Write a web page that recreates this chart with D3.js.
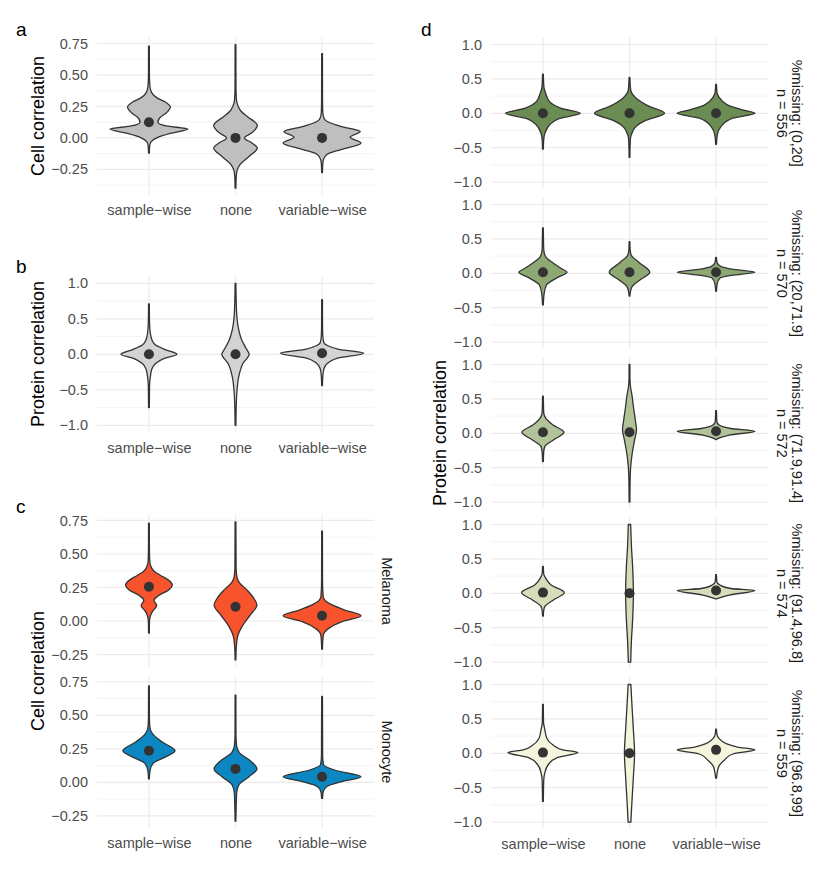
<!DOCTYPE html>
<html>
<head>
<meta charset="utf-8">
<script src="https://cdn.jsdelivr.net/npm/d3@7"></script>
<style>
  body { margin: 0; background: #fff; }
  text { font-family: "Liberation Sans", Arial, sans-serif; }
</style>
</head>
<body>
<svg id="canvas" width="830" height="890"></svg>
<script>
// categories on the x axis
const methods = ["sample-wise", "none", "variable-wise"];

// violin profiles: [value, relative width] per method (bottom -> top)
const aDensity = [
  [[-0.12,0.01],[-0.06,0.02],[-0.03,0.06],[0.0,0.2],[0.035,0.55],[0.07,1.0],[0.095,0.45],[0.125,0.23],[0.16,0.28],[0.2,0.45],[0.245,0.55],[0.285,0.42],[0.32,0.2],[0.36,0.07],[0.41,0.025],[0.5,0.012],[0.73,0.01]],
  [[-0.40,0.01],[-0.3,0.02],[-0.25,0.05],[-0.21,0.12],[-0.15,0.34],[-0.08,0.56],[-0.04,0.42],[0.0,0.23],[0.04,0.42],[0.1,0.56],[0.17,0.3],[0.21,0.15],[0.25,0.07],[0.3,0.025],[0.4,0.012],[0.74,0.01]],
  [[-0.275,0.01],[-0.2,0.02],[-0.15,0.07],[-0.12,0.2],[-0.095,0.47],[-0.04,1.0],[0.005,0.72],[0.05,0.98],[0.09,0.5],[0.12,0.2],[0.15,0.06],[0.2,0.02],[0.3,0.012],[0.67,0.01]]
];
const aMeans = [0.124, 0.0, 0.0];

const bDensity = [
  [[-0.75,0.01],[-0.45,0.015],[-0.3,0.04],[-0.2,0.08],[-0.13,0.17],[-0.06,0.38],[0.0,0.72],[0.07,0.4],[0.13,0.17],[0.2,0.08],[0.3,0.035],[0.45,0.015],[0.71,0.01]],
  [[-1.0,0.01],[-0.7,0.02],[-0.5,0.04],[-0.31,0.085],[-0.13,0.19],[0.0,0.35],[0.085,0.27],[0.2,0.16],[0.35,0.08],[0.5,0.04],[0.7,0.02],[1.0,0.01]],
  [[-0.44,0.01],[-0.3,0.02],[-0.2,0.05],[-0.15,0.1],[-0.056,0.38],[0.015,1.07],[0.07,0.43],[0.12,0.15],[0.16,0.05],[0.25,0.02],[0.4,0.012],[0.77,0.01]]
];
const bMeans = [0.0, 0.0, 0.015];

const cellTypes = ["Melanoma", "Monocyte"];
const cMelanomaDensity = [
  [[-0.09,0.01],[0.0,0.015],[0.04,0.04],[0.075,0.1],[0.115,0.2],[0.155,0.13],[0.19,0.25],[0.23,0.5],[0.27,0.6],[0.305,0.5],[0.34,0.3],[0.37,0.14],[0.4,0.06],[0.45,0.02],[0.55,0.012],[0.73,0.01]],
  [[-0.29,0.01],[-0.2,0.02],[-0.12,0.05],[-0.04,0.17],[0.045,0.38],[0.12,0.55],[0.17,0.47],[0.23,0.3],[0.29,0.09],[0.33,0.035],[0.4,0.015],[0.74,0.01]],
  [[-0.21,0.01],[-0.12,0.025],[-0.09,0.05],[-0.055,0.17],[-0.005,0.51],[0.04,1.0],[0.08,0.6],[0.12,0.26],[0.15,0.09],[0.18,0.03],[0.3,0.012],[0.67,0.01]]
];
const cMelanomaMeans = [0.256, 0.107, 0.04];
const cMonocyteDensity = [
  [[0.025,0.01],[0.09,0.03],[0.14,0.1],[0.19,0.43],[0.236,0.67],[0.3,0.34],[0.365,0.085],[0.42,0.02],[0.5,0.012],[0.72,0.01]],
  [[-0.29,0.01],[-0.15,0.02],[-0.08,0.03],[-0.02,0.085],[0.04,0.34],[0.1,0.55],[0.17,0.34],[0.22,0.1],[0.27,0.03],[0.35,0.012],[0.65,0.01]],
  [[-0.12,0.01],[-0.07,0.03],[-0.03,0.13],[0.005,0.5],[0.042,1.0],[0.09,0.34],[0.13,0.04],[0.2,0.015],[0.64,0.01]]
];
const cMonocyteMeans = [0.236, 0.1, 0.042];

const dBins = ["(0,20]", "(20,71.9]", "(71.9,91.4]", "(91.4,96.8]", "(96.8,99]"];
const dCounts = [556, 570, 572, 574, 559];
const dDensity = [
  [
    [[-0.52,0.01],[-0.38,0.02],[-0.29,0.05],[-0.17,0.17],[-0.073,0.43],[0.0,0.96],[0.073,0.47],[0.17,0.17],[0.29,0.07],[0.38,0.025],[0.57,0.01]],
    [[-0.64,0.01],[-0.4,0.02],[-0.32,0.04],[-0.19,0.17],[-0.1,0.43],[0.0,0.9],[0.1,0.51],[0.22,0.17],[0.34,0.03],[0.52,0.01]],
    [[-0.45,0.01],[-0.32,0.03],[-0.19,0.13],[-0.07,0.43],[0.0,1.0],[0.05,0.68],[0.12,0.3],[0.24,0.07],[0.3,0.025],[0.42,0.01]]
  ],
  [
    [[-0.46,0.01],[-0.3,0.03],[-0.17,0.09],[-0.06,0.38],[0.015,0.62],[0.07,0.47],[0.15,0.26],[0.24,0.07],[0.35,0.02],[0.66,0.01]],
    [[-0.33,0.01],[-0.25,0.03],[-0.19,0.07],[-0.1,0.26],[0.015,0.52],[0.15,0.26],[0.27,0.04],[0.35,0.015],[0.46,0.01]],
    [[-0.26,0.01],[-0.15,0.03],[-0.07,0.1],[-0.03,0.4],[0.015,1.0],[0.06,0.4],[0.1,0.12],[0.15,0.03],[0.23,0.01]]
  ],
  [
    [[-0.41,0.01],[-0.27,0.02],[-0.19,0.05],[-0.1,0.26],[0.015,0.54],[0.12,0.26],[0.22,0.07],[0.3,0.02],[0.54,0.01]],
    [[-1.0,0.01],[-0.7,0.015],[-0.49,0.03],[-0.29,0.07],[-0.1,0.13],[0.05,0.18],[0.19,0.15],[0.39,0.1],[0.53,0.07],[0.68,0.025],[0.8,0.012],[1.0,0.01]],
    [[-0.09,0.01],[-0.07,0.07],[-0.025,0.34],[0.03,1.0],[0.07,0.38],[0.12,0.08],[0.17,0.02],[0.33,0.01]]
  ],
  [
    [[-0.33,0.01],[-0.25,0.02],[-0.19,0.05],[-0.1,0.26],[0.01,0.55],[0.12,0.21],[0.22,0.07],[0.28,0.02],[0.39,0.01]],
    [[-1.0,0.03],[-0.92,0.035],[-0.68,0.05],[-0.39,0.08],[0.0,0.1],[0.39,0.08],[0.68,0.05],[0.92,0.035],[1.0,0.03]],
    [[-0.08,0.01],[-0.07,0.07],[-0.025,0.34],[0.04,1.0],[0.07,0.38],[0.12,0.1],[0.17,0.02],[0.27,0.01]]
  ],
  [
    [[-0.7,0.01],[-0.4,0.02],[-0.29,0.045],[-0.17,0.13],[-0.06,0.38],[0.01,0.9],[0.05,0.51],[0.12,0.26],[0.22,0.1],[0.34,0.05],[0.45,0.015],[0.71,0.01]],
    [[-1.0,0.035],[-0.73,0.06],[-0.34,0.1],[0.0,0.13],[0.34,0.1],[0.73,0.06],[1.0,0.035]],
    [[-0.36,0.01],[-0.28,0.03],[-0.19,0.07],[-0.1,0.21],[-0.01,0.43],[0.05,1.0],[0.09,0.55],[0.14,0.26],[0.22,0.07],[0.28,0.02],[0.35,0.01]]
  ]
];
const dMeans = [
  [0.0, 0.0, 0.0],
  [0.015, 0.015, 0.015],
  [0.015, 0.015, 0.03],
  [0.01, 0.0, 0.04],
  [0.01, 0.0, 0.05]
];

// tick values
const cellTicks = [-0.25, 0, 0.25, 0.5, 0.75];
const cellMinor = [-0.375, -0.125, 0.125, 0.375, 0.625];
const protTicks = [-1, -0.5, 0, 0.5, 1];
const protMinor = [-0.75, -0.25, 0.25, 0.75];

const CANVAS = d3.select("#canvas");
const OUTLINE = "#333333";
const GRID = "#ebebeb";
const TICKCOL = "#4d4d4d";
const FONT = "Liberation Sans, Arial, sans-serif";
const dColors = ["#6b8c52", "#8ea874", "#b2c39a", "#d7dcba", "#f5f4dd"];

const fmt2 = v => d3.format(".2f")(v).replace("-", "\u2212");
const fmt1 = v => d3.format(".1f")(v).replace("-", "\u2212");
const fmtName = s => s.replace("-", "\u2212");

/**
 * draws one facet: grid, y axis labels, violins and mean points
 */
function drawFacet(box, yDomain, ticks, minor, fmt, density, means, fill) {
  var x = d3.scalePoint().domain(methods).range([box.x0, box.x1]).padding(0.6);
  var y = d3.scaleLinear().domain(yDomain).range([box.y1, box.y0]);
  var w = d3.scaleLinear().domain([0, 1]).range([0, x.step() * 0.45]);
  var g = CANVAS.append("g");

  g.selectAll(".minor").data(minor.filter(v => v > yDomain[0] && v < yDomain[1]))
    .enter().append("line")
    .attr("x1", box.x0).attr("x2", box.x1)
    .attr("y1", d => y(d)).attr("y2", d => y(d))
    .style("stroke", GRID).style("stroke-width", 0.6);
  g.selectAll(".major").data(ticks)
    .enter().append("line")
    .attr("x1", box.x0).attr("x2", box.x1)
    .attr("y1", d => y(d)).attr("y2", d => y(d))
    .style("stroke", GRID).style("stroke-width", 1.2);
  g.selectAll(".vgrid").data(methods)
    .enter().append("line")
    .attr("x1", d => x(d)).attr("x2", d => x(d))
    .attr("y1", box.y0).attr("y2", box.y1)
    .style("stroke", GRID).style("stroke-width", 1.2);

  var ax = g.append("g")
    .attr("transform", "translate(" + box.x0 + ",0)")
    .call(d3.axisLeft(y).tickValues(ticks).tickFormat(fmt).tickSize(0).tickPadding(9));
  ax.select(".domain").remove();
  ax.selectAll("text").style("font-size", "14.5px").style("fill", TICKCOL)
    .style("font-family", FONT);

  methods.forEach(function (m, i) {
    var cx = x(m);
    var area = d3.area()
      .curve(d3.curveMonotoneY)
      .y(d => y(d[0]))
      .x0(d => cx - w(d[1]))
      .x1(d => cx + w(d[1]));
    g.append("path")
      .attr("d", area(density[i]))
      .style("fill", fill)
      .style("stroke", OUTLINE)
      .style("stroke-width", 1.3)
      .style("stroke-linejoin", "round");
    g.append("circle")
      .attr("cx", cx)
      .attr("cy", y(means[i]))
      .attr("r", 5)
      .style("fill", OUTLINE);
  });
  return x;
}

/**
 * draws the method labels under a panel
 */
function drawXAxis(x, yPos) {
  var ax = CANVAS.append("g")
    .attr("transform", "translate(0," + yPos + ")")
    .call(d3.axisBottom(x).tickSize(0).tickPadding(10).tickFormat(fmtName));
  ax.select(".domain").remove();
  ax.selectAll("text").style("font-size", "14.5px").style("fill", TICKCOL)
    .style("font-family", FONT);
}

function yTitle(txt, xPos, yPos) {
  CANVAS.append("text")
    .attr("transform", "translate(" + xPos + "," + yPos + ") rotate(-90)")
    .attr("text-anchor", "middle")
    .style("font-size", "18px")
    .text(txt);
}

function panelLetter(txt, xPos, yPos) {
  CANVAS.append("text")
    .attr("x", xPos).attr("y", yPos)
    .style("font-size", "19px")
    .text(txt);
}

function stripLabel(lines, xPos, yPos) {
  var t = CANVAS.append("text")
    .attr("transform", "translate(" + xPos + "," + yPos + ") rotate(90)")
    .attr("text-anchor", "middle")
    .style("font-size", "14.5px")
    .style("fill", "#1a1a1a");
  lines.forEach(function (l, i) {
    t.append("tspan")
      .attr("x", 0)
      .attr("dy", i === 0 ? (-(lines.length - 1) * 0.52 + 0.35) + "em" : "1.04em")
      .text(l);
  });
}

// panel a
var xa = drawFacet({x0: 97, x1: 374, y0: 37.6, y1: 195}, [-0.454, 0.797],
  cellTicks, cellMinor, fmt2, aDensity, aMeans, "#bfbfbf");
drawXAxis(xa, 195);
yTitle("Cell correlation", 43.5, 116);
panelLetter("a", 16, 36);

// panel b
var xb = drawFacet({x0: 97, x1: 374, y0: 276.2, y1: 432.4}, [-1.1, 1.1],
  protTicks, protMinor, fmt1, bDensity, bMeans, "#d3d3d3");
drawXAxis(xb, 432.4);
yTitle("Protein correlation", 43.5, 354);
panelLetter("b", 16, 273);

// panel c
var xc = drawFacet({x0: 97, x1: 374, y0: 515.1, y1: 666.6}, [-0.34, 0.79],
  cellTicks, cellMinor, fmt2, cMelanomaDensity, cMelanomaMeans, "#f7532d");
drawFacet({x0: 97, x1: 374, y0: 676.4, y1: 827.9}, [-0.34, 0.79],
  cellTicks, cellMinor, fmt2, cMonocyteDensity, cMonocyteMeans, "#0d87c1");
drawXAxis(xc, 827.9);
stripLabel([cellTypes[0]], 387, 591);
stripLabel([cellTypes[1]], 387, 752);
yTitle("Cell correlation", 43.5, 671);
panelLetter("c", 16, 513);

// panel d
var xd;
dBins.forEach(function (bin, k) {
  var mid = 113.3 + k * 160;
  xd = drawFacet({x0: 491, x1: 768, y0: mid - 75.7, y1: mid + 75.7}, [-1.1, 1.1],
    protTicks, protMinor, fmt1, dDensity[k], dMeans[k], dColors[k]);
  stripLabel(["%missing: " + bin, "n = " + dCounts[k]], 789.5, mid);
});
drawXAxis(xd, 753.3 + 75.7);
yTitle("Protein correlation", 446, 433);
panelLetter("d", 421, 36);
</script>
</body>
</html>
